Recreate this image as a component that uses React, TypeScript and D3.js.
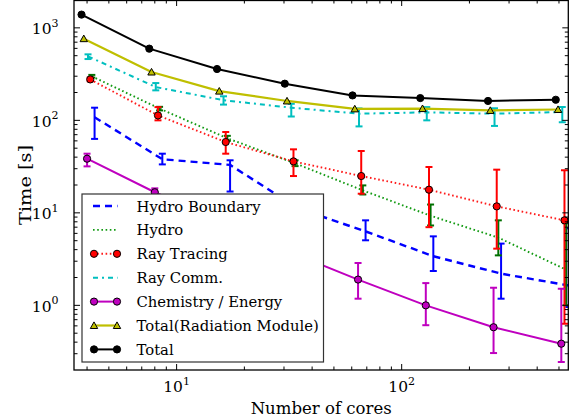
import React from 'react';
import * as d3 from 'd3';

// ---------------- data ----------------
const cores = [4, 8, 16, 32, 64, 128, 256, 512];

const hydroBoundaryMean = [108, 38, 33, 11.2, 6.3, 3.4, 2.2, 1.64];
const hydroBoundaryLo = [63, 33.4, 17, 9, 5.05, 2.35, 1.18, 0.96];
const hydroBoundaryHi = [137, 43.6, 37, 14, 8.3, 5.57, 4.65, 6.8];

const hydroMean = [299, 134, 64, 34.3, 17.5, 9.3, 5.4, 2.43];
const hydroLo = [290, 128, 60, 32, 15.8, 7.3, 3.47, 1.0];
const hydroHi = [310, 140, 68, 37, 19.8, 12.3, 8.3, 7.7];

const rayTracingMean = [277, 113, 58.3, 36, 25, 17.8, 11.75, 8.3];
const rayTracingLo = [265, 100, 43.6, 25, 16.1, 7.0, 4.1, 0.634];
const rayTracingHi = [290, 139, 74.8, 48.6, 46.6, 31.3, 29.3, 28.8];

const rayCommMean = [492, 229, 165, 137, 118, 122, 118, 123];
const rayCommLo = [460, 211, 148, 110, 86, 100, 87, 95.5];
const rayCommHi = [517, 253, 182, 151, 134.5, 139, 135, 139];

const chemistryMean = [38.5, 16.7, 8, 3.75, 1.9, 1.0, 0.58, 0.385];
const chemistryLo = [31.8, 15, 7, 3.3, 1.18, 0.61, 0.305, 0.244];
const chemistryHi = [43.6, 18.4, 9, 4.2, 2.87, 1.74, 1.55, 1.51];

const totalRadiation = [764, 333, 207, 162, 133, 134, 128, 131];
const total = [1390, 596, 359, 249, 186, 174, 162, 167];

const seriesNames = [
  'Hydro Boundary',
  'Hydro',
  'Ray Tracing',
  'Ray Comm.',
  'Chemistry / Energy',
  'Total(Radiation Module)',
  'Total',
];

const xMajorTicks = [10, 100];
const yMajorTicks = [1, 10, 100, 1000];

// ---------------- styling ----------------
const FONT = "'DejaVu Serif', serif";
const TXT: React.CSSProperties = { fontFamily: FONT };
const PL = 74, PR = 568.3, PT = 0, PB = 370;

type Marker = 'none' | 'circle' | 'triangle';
interface Series {
  name: string;
  mean: number[];
  lo?: number[];
  hi?: number[];
  dodge: number;
  color: string;
  barColor?: string;
  dash?: string;
  width: number;
  marker: Marker;
  markerFill?: string;
}

const series: Series[] = [
  { name: seriesNames[0], mean: hydroBoundaryMean, lo: hydroBoundaryLo, hi: hydroBoundaryHi, dodge: 1.08, color: '#0000ff', barColor: '#0000ff', dash: '7 5', width: 2.4, marker: 'none' },
  { name: seriesNames[1], mean: hydroMean, lo: hydroLo, hi: hydroHi, dodge: 1.05, color: '#129a12', barColor: '#007000', dash: '1.6 2.6', width: 1.9, marker: 'none' },
  { name: seriesNames[2], mean: rayTracingMean, lo: rayTracingLo, hi: rayTracingHi, dodge: 1.033, color: '#ff1a1a', barColor: '#ff0000', dash: '1.6 2.6', width: 1.9, marker: 'circle', markerFill: '#ff0000' },
  { name: seriesNames[3], mean: rayCommMean, lo: rayCommLo, hi: rayCommHi, dodge: 1.01, color: '#00bfbf', barColor: '#00bfbf', dash: '5 4 2 4', width: 2, marker: 'none' },
  { name: seriesNames[4], mean: chemistryMean, lo: chemistryLo, hi: chemistryHi, dodge: 1.0, color: '#bf00bf', barColor: '#bf00bf', width: 2, marker: 'circle', markerFill: '#bf00bf' },
  { name: seriesNames[5], mean: totalRadiation, dodge: 0.967, color: '#bfbf00', width: 2.2, marker: 'triangle', markerFill: '#bfbf00' },
  { name: seriesNames[6], mean: total, dodge: 0.945, color: '#000000', width: 2, marker: 'circle', markerFill: '#000000' },
];

function MarkerShape({ type, cx, cy, fill }: { type: Marker; cx: number; cy: number; fill?: string }) {
  if (type === 'circle') {
    return <circle cx={cx} cy={cy} r={3.6} fill={fill} stroke="#000" strokeWidth={1} />;
  }
  if (type === 'triangle') {
    const p = `M${cx},${cy - 3.6} L${cx + 3.7},${cy + 3} L${cx - 3.7},${cy + 3} Z`;
    return <path d={p} fill={fill} stroke="#000" strokeWidth={1} strokeLinejoin="miter" />;
  }
  return null;
}

function minorTicks(lo: number, hi: number): number[] {
  const out: number[] = [];
  for (let e = -2; e <= 4; e++) {
    for (let m = 2; m <= 9; m++) {
      const v = m * Math.pow(10, e);
      if (v > lo * 1.0001 && v < hi * 0.9999) out.push(v);
    }
  }
  return out;
}

export default function App() {
  const x = d3.scaleLog().domain([3.5, 550]).range([PL, PR]);
  const y = d3.scaleLog().domain([0.2, 2000]).range([PB, PT]);

  const xMinor = minorTicks(3.5, 550);
  const yMinor = minorTicks(0.2, 2000);

  const MAJ = 6, MIN = 3.5;

  const line = (s: Series) =>
    d3
      .line<number>()
      .x((_, i) => x(cores[i] * s.dodge))
      .y((v) => y(v))(s.mean) || '';

  const legendTop = 194, legendLeft = 82, legendRight = 323.5, legendBottom = 362;
  const rowY0 = 206, rowStep = 23.9;

  return (
    <svg
      width={571}
      height={420}
      style={{ position: 'absolute', left: 0, top: 0, background: '#fff', fontFamily: FONT }}
    >
      <defs>
        <clipPath id="plotclip">
          <rect x={PL} y={PT} width={PR - PL} height={PB - PT} />
        </clipPath>
      </defs>
      <rect x={0} y={0} width={571} height={420} fill="#fff" />

      {/* data */}
      <g clipPath="url(#plotclip)">
        {series.map((s) => (
          <g key={s.name}>
            <path
              d={line(s)}
              fill="none"
              stroke={s.color}
              strokeWidth={s.width}
              strokeDasharray={s.dash}
              strokeLinejoin="round"
            />
            {s.lo &&
              s.hi &&
              s.mean.map((_, i) => {
                const cx = x(cores[i] * s.dodge);
                const y1 = y(s.lo![i]);
                const y2 = y(s.hi![i]);
                return (
                  <g key={i} stroke={s.barColor} strokeWidth={2}>
                    <line x1={cx} x2={cx} y1={y1} y2={y2} />
                    <line x1={cx - 3.5} x2={cx + 3.5} y1={y1} y2={y1} />
                    <line x1={cx - 3.5} x2={cx + 3.5} y1={y2} y2={y2} />
                  </g>
                );
              })}
            {s.marker !== 'none' &&
              s.mean.map((v, i) => (
                <MarkerShape key={'m' + i} type={s.marker} cx={x(cores[i] * s.dodge)} cy={y(v)} fill={s.markerFill} />
              ))}
          </g>
        ))}
      </g>

      {/* ticks */}
      <g stroke="#000" strokeWidth={1}>
        {xMajorTicks.map((t) => (
          <g key={'xM' + t}>
            <line x1={x(t)} x2={x(t)} y1={PB} y2={PB - MAJ} />
            <line x1={x(t)} x2={x(t)} y1={PT} y2={PT + MAJ} />
          </g>
        ))}
        {xMinor.map((t) => (
          <g key={'xm' + t}>
            <line x1={x(t)} x2={x(t)} y1={PB} y2={PB - MIN} />
            <line x1={x(t)} x2={x(t)} y1={PT} y2={PT + MIN} />
          </g>
        ))}
        {yMajorTicks.map((t) => (
          <g key={'yM' + t}>
            <line x1={PL} x2={PL + MAJ} y1={y(t)} y2={y(t)} />
            <line x1={PR} x2={PR - MAJ} y1={y(t)} y2={y(t)} />
          </g>
        ))}
        {yMinor.map((t) => (
          <g key={'ym' + t}>
            <line x1={PL} x2={PL + MIN} y1={y(t)} y2={y(t)} />
            <line x1={PR} x2={PR - MIN} y1={y(t)} y2={y(t)} />
          </g>
        ))}
      </g>

      {/* frame */}
      <rect x={PL} y={PT + 0.5} width={PR - PL} height={PB - PT - 0.5} fill="none" stroke="#000" strokeWidth={1.3} />

      {/* tick labels */}
      {xMajorTicks.map((t) => (
        <text key={'xl' + t} x={x(t)} y={392} textAnchor="middle" fontSize={15.5} fill="#000" style={TXT}>
          <tspan>10</tspan>
          <tspan dy={-7.5} fontSize={11}>{Math.round(Math.log10(t))}</tspan>
        </text>
      ))}
      {yMajorTicks.map((t) => (
        <text key={'yl' + t} x={58.5} y={y(t) + 6.5} textAnchor="end" fontSize={15.5} fill="#000" style={TXT}>
          <tspan>10</tspan>
          <tspan dy={-7.5} fontSize={11}>{Math.round(Math.log10(t))}</tspan>
        </text>
      ))}

      {/* axis labels */}
      <text x={(PL + PR) / 2} y={413.5} textAnchor="middle" fontSize={17} fill="#000" style={TXT}
        textLength={141} lengthAdjust="spacingAndGlyphs">
        Number of cores
      </text>
      <text
        transform={`translate(31,${(PT + PB) / 2}) rotate(-90)`}
        textAnchor="middle"
        fontSize={17.5}
        fill="#000"
        style={TXT}
        textLength={80}
        lengthAdjust="spacingAndGlyphs"
      >
        Time [s]
      </text>

      {/* legend */}
      <rect
        x={legendLeft}
        y={legendTop}
        width={legendRight - legendLeft}
        height={legendBottom - legendTop}
        fill="#fff"
        stroke="#333"
        strokeWidth={1.2}
      />
      {series.map((s, i) => {
        const cy = rowY0 + i * rowStep;
        return (
          <g key={'lg' + s.name}>
            <line
              x1={93}
              x2={117.5}
              y1={cy}
              y2={cy}
              stroke={s.color}
              strokeWidth={s.width}
              strokeDasharray={s.dash}
            />
            {s.marker !== 'none' && (
              <>
                <MarkerShape type={s.marker} cx={94} cy={cy} fill={s.markerFill} />
                <MarkerShape type={s.marker} cx={117} cy={cy} fill={s.markerFill} />
              </>
            )}
            <text x={136.5} y={cy + 5.5} fontSize={14.8} fill="#000" style={TXT}>
              {s.name}
            </text>
          </g>
        );
      })}
    </svg>
  );
}
